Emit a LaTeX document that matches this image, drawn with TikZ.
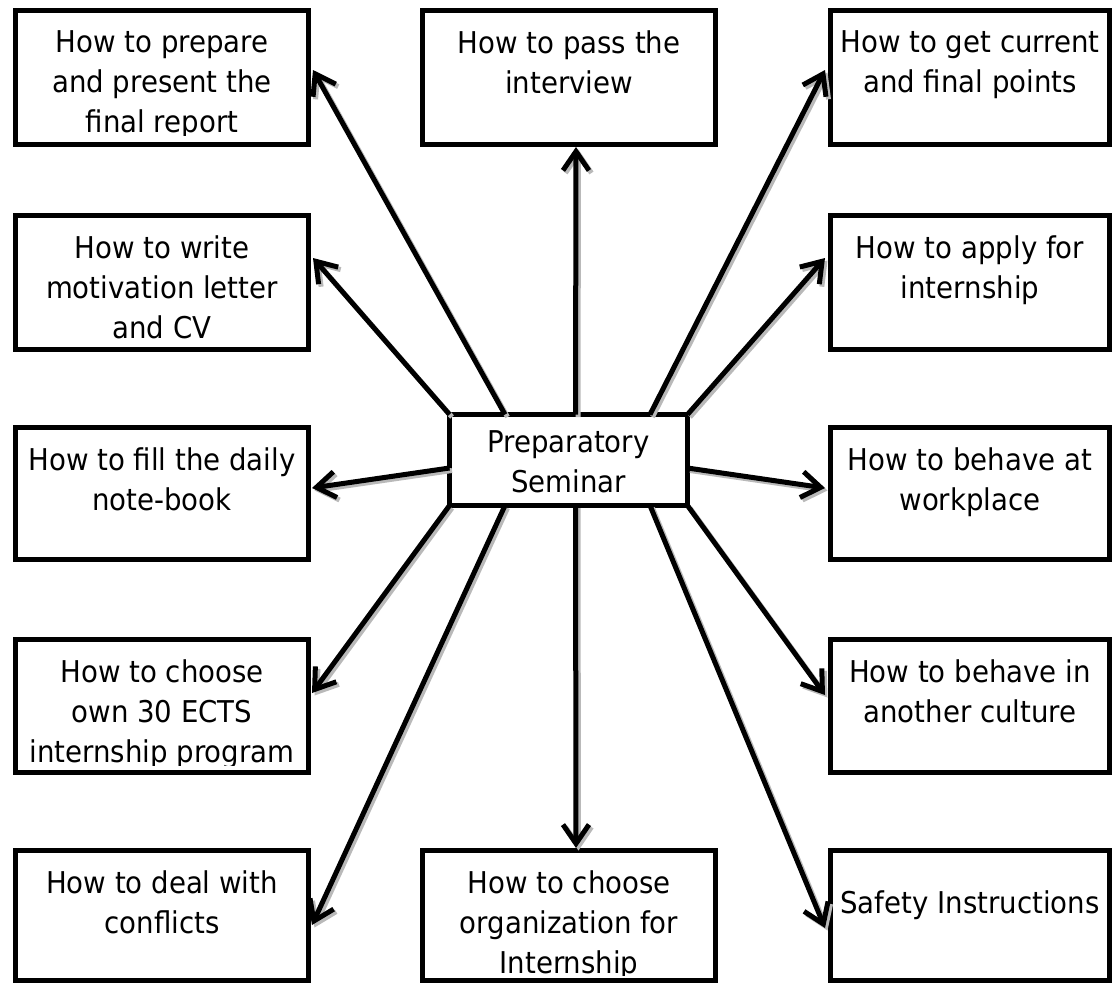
\documentclass[tikz,border=0pt]{standalone}
\usepackage{fontspec}
\setmainfont{DejaVu Sans}[FakeStretch=0.92]
\usetikzlibrary{arrows.meta,calc}

% top-aligned, centred text block of fixed size
\newcommand\boxtext[4]{\parbox[t][#2][t]{#1}{\centering\vspace*{#3}#4\par}}

\begin{document}
\begin{tikzpicture}[x=1pt,y=-1pt,
  topic/.style={draw=black, line width=5.5pt, fill=white, inner sep=0pt,
    outer sep=0pt, anchor=north west, font=\fontsize{30}{40}\selectfont},
  textcut/.style={fill=white},
  link/.style={line width=5pt, -{Straight Barb[length=19pt,width=26pt]}},
  linkshadow/.style={link, draw=gray!55}]
\useasboundingbox (0,0) rectangle (1118,986);

% centre
\node[topic] (S) at (449.5,414.5) {\boxtext{238pt}{91pt}{16pt}{Preparatory\\Seminar}};

% left column
\node[topic] (A) at (15.5,10.5)  {\boxtext{293pt}{134pt}{20pt}{How to prepare\\and present the\\final report}};
\node[topic] (D) at (15.5,215.5) {\boxtext{293pt}{134pt}{20pt}{How to write\\motivation letter\\and CV}};
\node[topic] (F) at (15.5,427.5) {\boxtext{293pt}{132pt}{20pt}{How to fill the daily\\note-book}};
\node[topic] (H) at (15.5,639.5) {\boxtext{293pt}{133pt}{20pt}{How to choose\\own 30 ECTS\\internship program}};
\node[topic] (J) at (15.5,850.5) {\boxtext{293pt}{130pt}{20pt}{How to deal with\\conflicts}};

% middle column
\node[topic] (B) at (422.5,10.5)  {\boxtext{293pt}{134pt}{20pt}{How to pass the\\interview}};
\node[topic] (K) at (422.5,850.5) {\boxtext{293pt}{130pt}{20pt}{How to choose\\organization for\\Internship}};

% right column
\node[topic] (C) at (830.5,10.5)  {\boxtext{279pt}{134pt}{20pt}{How to get current\\and final points}};
\node[topic] (E) at (830.5,215.5) {\boxtext{279pt}{134pt}{20pt}{How to apply for\\internship}};
\node[topic] (G) at (830.5,427.5) {\boxtext{279pt}{132pt}{20pt}{How to behave at\\workplace}};
\node[topic] (I) at (830.5,639.5) {\boxtext{279pt}{133pt}{20pt}{How to behave in\\another culture}};
\node[topic] (L) at (830.5,850.5) {\boxtext{279pt}{130pt}{40pt}{Safety Instructions}};

% text frames cut off the descenders of their last line
\path[textcut] ($(A.south west)+(3,-9)$) rectangle ($(A.south east)+(-3,-3)$);
\path[textcut] ($(H.south west)+(3,-7)$) rectangle ($(H.south east)+(-3,-3)$);
\path[textcut] ($(K.south west)+(3,-4.5)$) rectangle ($(K.south east)+(-3,-3)$);

% connector ends: s = on the seminar box, t = arrow tip
\coordinate (sA) at ($(S.north west)+(55.5,0)$);  \coordinate (tA) at ($(A.north east)+(4.5,59.5)$);
\coordinate (sD) at (S.north west);                \coordinate (tD) at ($(D.north east)+(4.5,42.5)$);
\coordinate (sF) at ($(S.north west)+(0,53.5)$);   \coordinate (tF) at ($(F.north east)+(3.5,60.5)$);
\coordinate (sH) at (S.south west);                \coordinate (tH) at ($(H.north east)+(3.5,53.5)$);
\coordinate (sJ) at ($(S.south west)+(55.5,0)$);  \coordinate (tJ) at ($(J.north east)+(3.5,74.5)$);
\coordinate (sB) at ($(S.north)+(7,0)$);           \coordinate (tB) at ($(B.south)+(7,2.5)$);
\coordinate (sK) at ($(S.south)+(7,0)$);           \coordinate (tK) at ($(K.north)+(7,-2.5)$);
\coordinate (sC) at ($(S.north east)+(-37.5,0)$); \coordinate (tC) at ($(C.north west)+(-5.5,59.5)$);
\coordinate (sE) at (S.north east);                \coordinate (tE) at ($(E.north west)+(-5.5,42.5)$);
\coordinate (sG) at ($(S.north east)+(0,53.5)$);   \coordinate (tG) at ($(G.north west)+(-5.5,60.5)$);
\coordinate (sI) at (S.south east);                \coordinate (tI) at ($(I.north west)+(-5.5,55.5)$);
\coordinate (sL) at ($(S.south east)+(-37.5,0)$); \coordinate (tL) at ($(L.north west)+(-5.5,77.5)$);

% soft drop shadow under the connectors
\begin{scope}[transform canvas={shift={(2.5,2.5)}}]
  \foreach \n in {A,D,F,H,J,B,K,C,E,G,I,L}
    \draw[linkshadow] (s\n) -- (t\n);
\end{scope}

% connectors
\foreach \n in {A,D,F,H,J,B,K,C,E,G,I,L}
  \draw[link] (s\n) -- (t\n);
\end{tikzpicture}
\end{document}
